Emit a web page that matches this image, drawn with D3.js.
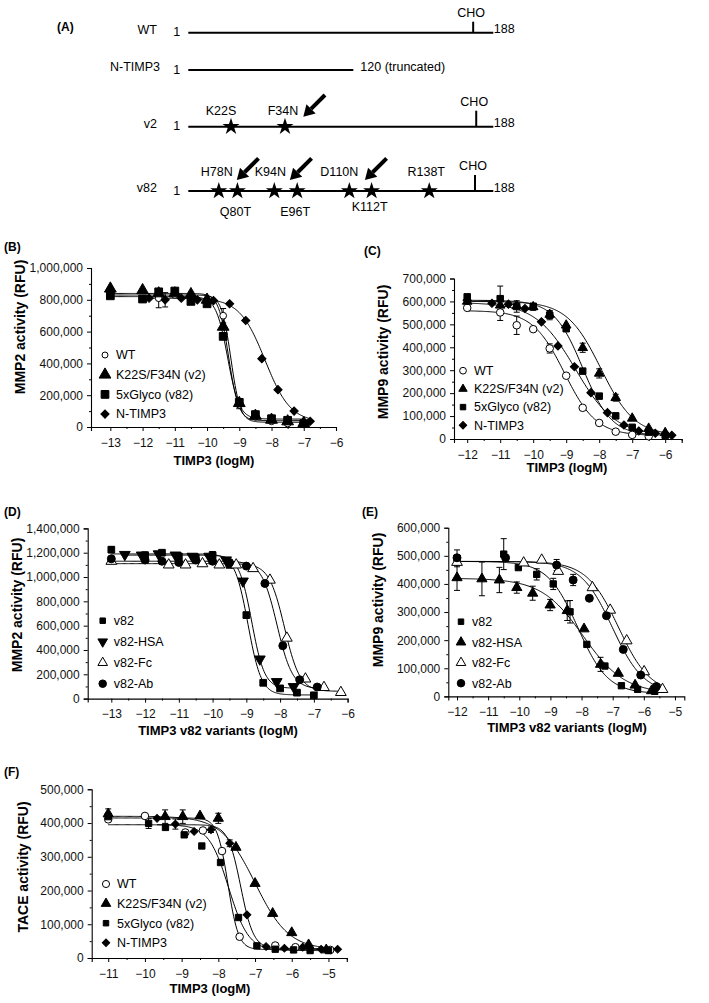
<!DOCTYPE html>
<html><head><meta charset="utf-8">
<script src="https://cdnjs.cloudflare.com/ajax/libs/d3/7.8.5/d3.min.js"></script>
<style>
body{margin:0;background:#fff;}
svg{display:block;font-family:"Liberation Sans",Arial,Helvetica,sans-serif;}
</style></head><body><script>
// ---------------- DATA ----------------
// Panel A schematic (positions as fraction of the 1..188 bar)
const A_rows = ["WT", "N-TIMP3", "v2", "v82"];
const A_rowEnd = [1, 0.541, 1, 1];
const A_rowEndLabel = ["188", "120 (truncated)", "188", "188"];
const A_cho = [0.934, null, 0.944, 0.94];
const A_v2_mut = ["K22S", "F34N"];
const A_v2_pos = [0.14, 0.317];
const A_v82_mut = ["H78N", "Q80T", "K94N", "E96T", "D110N", "K112T", "R138T"];
const A_v82_pos = [0.10, 0.161, 0.282, 0.357, 0.528, 0.601, 0.79];
const A_v82_side = ["up", "down", "up", "down", "up", "down", "up"];
const A_v82_arrow = [false, true, false, true, false, true, false];

// Panel B  [logM, RFU, error]
const B_names = ["WT", "K22S/F34N (v2)", "5xGlyco (v82)", "N-TIMP3"];
const B_WT = [[-13,840000,0],[-12,805000,0],[-11.5,810000,60000],[-11,830000,0],[-10.5,815000,0],[-10,790000,0],[-9.5,700000,45000],[-9,140000,25000],[-8.5,65000,0],[-8,36000,0],[-7.5,22000,0],[-7,17000,0]];
const B_v2 = [[-13,870000,0],[-12,860000,0],[-11.5,840000,0],[-11,840000,0],[-10.5,835000,0],[-10,800000,0],[-9.5,630000,0],[-9,150000,0],[-8.5,70000,0],[-8,45000,0],[-7.5,35000,0],[-7,25000,0]];
const B_v82 = [[-13,825000,0],[-12,805000,0],[-11.5,850000,0],[-11,855000,0],[-10.5,790000,0],[-10,775000,0],[-9.5,570000,0],[-9,155000,20000],[-8.5,78000,0],[-8,52000,0],[-7.5,42000,0],[-7,21000,0]];
const B_NT = [[-11.8,810000,0],[-11.3,800000,45000],[-10.8,810000,0],[-10.3,800000,0],[-9.8,795000,0],[-9.3,775000,0],[-8.8,670000,0],[-8.3,430000,0],[-7.8,235000,0],[-7.3,100000,0],[-6.8,36000,0]];
// fits: [top, bottom, logIC50, hill]
const B_fit = [[830000,30000,-9.26,3.0],[840000,40000,-9.33,2.8],[820000,50000,-9.36,2.4],[810000,30000,-8.2,1.1]];

// Panel C
const C_names = ["WT", "K22S/F34N (v2)", "5xGlyco (v82)", "N-TIMP3"];
const C_WT = [[-12,572000,0],[-11,552000,35000],[-10.5,496000,40000],[-10,479000,0],[-9.5,395000,20000],[-9,276000,0],[-8.5,136000,0],[-8,70000,0],[-7.5,32000,0],[-7,18000,0],[-6.5,12000,0]];
const C_v2 = [[-12,600000,0],[-11,583000,20000],[-10.5,580000,0],[-10,576000,15000],[-9.5,543000,15000],[-9,496000,0],[-8.5,398000,20000],[-8,286000,20000],[-7.5,180000,15000],[-7,90000,0],[-6.5,46000,0],[-6,27000,0]];
const C_v82 = [[-12,620000,0],[-11,612000,55000],[-10.5,578000,25000],[-10,579000,0],[-9.5,540000,20000],[-9,481000,0],[-8.5,296000,0],[-8,187000,0],[-7.5,101000,0],[-7,51000,0],[-6.5,30000,0],[-6,16000,0]];
const C_NT = [[-12,605000,0],[-11.25,592000,0],[-10.75,588000,0],[-10.25,569000,0],[-9.75,511000,0],[-9.25,406000,0],[-8.75,315000,0],[-8.25,202000,0],[-7.75,115000,0],[-7.25,61000,0],[-6.8,35000,0],[-6.3,25000,0],[-5.8,16000,0]];
const C_fit = [[560000,15000,-9.05,0.9],[600000,15000,-7.95,0.85],[605000,15000,-8.5,1.0],[595000,15000,-8.72,0.72]];

// Panel D
const D_names = ["v82", "v82-HSA", "v82-Fc", "v82-Ab"];
const D_v82 = [[-13,1225000,25000],[-12,1180000,0],[-11.5,1200000,0],[-11,1170000,0],[-10.5,1160000,0],[-10,1180000,30000],[-9.5,1100000,0],[-9,687000,0],[-8.5,130000,0],[-8,84000,0],[-7.5,49000,0],[-7,27000,0]];
const D_HSA = [[-12.6,1185000,0],[-12.1,1180000,0],[-11.6,1190000,0],[-11.1,1180000,0],[-10.6,1170000,0],[-10.1,1170000,0],[-9.6,1140000,0],[-9.1,966000,0],[-8.6,325000,0],[-8.1,139000,0],[-7.6,98000,0]];
const D_Fc = [[-13,1130000,0],[-11.3,1100000,0],[-10.8,1100000,0],[-10.3,1110000,0],[-9.8,1100000,0],[-9.3,1100000,0],[-8.8,1070000,0],[-8.3,975000,0],[-7.8,498000,0],[-7.25,162000,0],[-6.7,92000,0],[-6.2,51000,0]];
const D_Ab = [[-13,1150000,0],[-12,1140000,0],[-11.5,1130000,0],[-11,1120000,0],[-10.5,1140000,0],[-10,1130000,0],[-9.5,1120000,0],[-9,1090000,0],[-8.45,947000,0],[-7.92,435000,0],[-7.42,155000,0],[-6.9,95000,0]];
const D_fit = [[1190000,30000,-8.95,2.2],[1180000,85000,-8.84,2.3],[1110000,60000,-7.87,1.9],[1130000,80000,-8.09,1.9]];

// Panel E
const E_names = ["v82", "v82-HSA", "v82-Fc", "v82-Ab"];
const E_v82 = [[-12,491000,30000],[-10.5,506000,55000],[-10.03,458000,0],[-9.44,434000,20000],[-8.91,400000,20000],[-8.37,301000,40000],[-7.83,185000,0],[-7.25,108000,0],[-6.72,38000,0],[-6.2,25000,0],[-5.65,18000,0]];
const E_HSA = [[-12,422000,45000],[-11.2,418000,60000],[-10.64,414000,45000],[-10.08,387000,20000],[-9.57,367000,25000],[-9.01,325000,20000],[-8.46,305000,35000],[-7.92,240000,0],[-7.39,114000,25000],[-6.82,82000,0],[-6.28,40000,0],[-5.75,20000,0]];
const E_Fc = [[-12,477000,0],[-9.86,475000,0],[-9.28,485000,0],[-8.75,445000,0],[-7.65,387000,0],[-7.08,307000,0],[-6.55,198000,0],[-5.99,88000,0],[-5.4,25000,0]];
const E_Ab = [[-12,493000,0],[-10.44,493000,0],[-8.8,467000,20000],[-8.27,414000,20000],[-7.75,349000,0],[-7.2,287000,0],[-6.66,167000,0],[-6.1,76000,0],[-5.6,35000,0]];
const E_fit = [[480000,10000,-8.12,0.9],[420000,10000,-7.95,0.65],[480000,10000,-6.81,0.85],[480000,10000,-7.01,0.86]];

// Panel F
const F_names = ["WT", "K22S/F34N (v2)", "5xGlyco (v82)", "N-TIMP3"];
const F_WT = [[-11,411000,0],[-10,421000,0],[-8.9,372000,0],[-8.42,378000,0],[-7.9,317000,0],[-7.42,63000,0],[-6.45,37000,0],[-5.9,32000,0],[-4.95,24000,0]];
const F_v2 = [[-11,427000,15000],[-9.45,419000,20000],[-8.97,419000,20000],[-8.5,421000,0],[-8.0,414000,15000],[-7.52,328000,0],[-7.0,221000,0],[-6.52,132000,0],[-6.0,75000,0],[-5.54,39000,0],[-5.06,24000,0]];
const F_v82 = [[-11,419000,0],[-9.9,399000,15000],[-9.44,387000,0],[-8.93,365000,0],[-8.45,332000,0],[-7.94,283000,0],[-7.45,120000,0],[-6.95,36000,0],[-6.45,26000,0],[-5.95,24000,0],[-5.5,22000,0],[-5.0,22000,0]];
const F_NT = [[-9.67,414000,0],[-9.17,397000,15000],[-8.66,375000,0],[-8.2,380000,8000],[-7.69,340000,10000],[-7.22,128000,0],[-6.7,34000,0],[-6.2,29000,0],[-5.7,32000,0],[-5.2,26000,0],[-4.75,26000,0]];
const F_fit = [[415000,25000,-7.74,3.0],[420000,25000,-7.0,0.95],[395000,22000,-7.72,1.6],[395000,28000,-7.39,2.5]];

// ---------------- DRAW ----------------
const W = 709, H = 1003;
const svg = d3.select("body").append("svg").attr("width", W).attr("height", H);
svg.append("rect").attr("width", W).attr("height", H).attr("fill", "#fff");
const FS = 12;

function symPath(shape, size) {
  const t = (shape === "circle" || shape === "ocircle") ? d3.symbolCircle :
            (shape === "square") ? d3.symbolSquare :
            (shape === "diamond") ? d3.symbolSquare : d3.symbolTriangle;
  return d3.symbol().type(t).size(size)();
}
function drawSym(g, shape, x, y, size) {
  const rot = shape === "diamond" ? 45 : (shape === "tridown" ? 180 : 0);
  const open = shape === "ocircle" || shape === "otri";
  g.append("path").attr("d", symPath(shape, size))
    .attr("transform", `translate(${x},${y}) rotate(${rot})`)
    .attr("fill", open ? "#fff" : "#000").attr("stroke", "#000").attr("stroke-width", 1);
}

function drawPanel(c) {
  const g = svg.append("g");
  const x = d3.scaleLinear().domain(c.xDom).range(c.xRange);
  const y = d3.scaleLinear().domain(c.yDom).range(c.yRange);
  const yMaj = d3.range(c.yDom[0], c.yDom[1] + 1, c.yStep);
  const yMin = d3.range(c.yDom[0], c.yDom[1] + 1, c.yStep / 2).filter(v => !yMaj.includes(v));
  const xMaj = d3.range(c.xTicks[0], c.xTicks[1] + 0.01, 1);
  const xMin = d3.range(c.xTicks[0] + 0.5, c.xDom[1] + 0.01, 1);
  g.append("g").attr("transform", `translate(${c.xRange[0]},0)`)
    .call(d3.axisLeft(y).tickValues(yMaj).tickFormat(d3.format(",")).tickSize(4).tickPadding(4));
  g.append("g").attr("transform", `translate(${c.xRange[0]},0)`)
    .call(d3.axisLeft(y).tickValues(yMin).tickFormat("").tickSize(2)).select(".domain").remove();
  g.append("g").attr("transform", `translate(0,${c.yRange[0]})`)
    .call(d3.axisBottom(x).tickValues(xMaj).tickFormat(d3.format("d")).tickSize(4).tickPadding(7));
  g.append("g").attr("transform", `translate(0,${c.yRange[0]})`)
    .call(d3.axisBottom(x).tickValues(xMin).tickFormat("").tickSize(2)).select(".domain").remove();
  g.selectAll(".domain").attr("stroke", "#000").attr("stroke-width", 1.1);
  g.selectAll(".tick line").attr("stroke", "#000");
  g.selectAll(".tick text").attr("font-size", FS).attr("fill", "#111")
    .attr("font-family", '"Liberation Sans",Arial,sans-serif');
  g.append("text").attr("transform", `translate(${c.yTitle[0]},${c.yTitle[1]}) rotate(-90)`)
    .attr("text-anchor", "middle").attr("dy", "0.35em").attr("font-weight", "bold").attr("font-size", 14)
    .text(c.yLabel);
  g.append("text").attr("x", c.xTitle[0]).attr("y", c.xTitle[1]).attr("text-anchor", "middle")
    .attr("font-weight", "bold").attr("font-size", 13).text(c.xLabel);
  g.append("text").attr("x", c.letter[0]).attr("y", c.letter[1]).attr("font-weight", "bold")
    .attr("font-size", 12).text(c.letter[2]);
  const line = d3.line().x(d => x(d[0])).y(d => y(d[1]));
  c.series.forEach((s, i) => {
    const f = c.fits[i];
    const ext = d3.extent(s.data, d => d[0]);
    const xs = d3.range(ext[0], ext[1] + 1e-9, (ext[1] - ext[0]) / 200);
    const pts = xs.map(v => [v, f[1] + (f[0] - f[1]) / (1 + Math.pow(10, (v - f[2]) * f[3]))]);
    g.append("path").attr("d", line(pts)).attr("fill", "none").attr("stroke", "#000").attr("stroke-width", 1);
  });
  c.series.forEach(s => {
    s.data.filter(d => d[2] > 0).forEach(d => {
      const px = x(d[0]);
      g.append("line").attr("x1", px).attr("x2", px).attr("y1", y(d[1] - d[2])).attr("y2", y(d[1] + d[2])).attr("stroke", "#000");
      [d[1] - d[2], d[1] + d[2]].forEach(v => g.append("line").attr("x1", px - 3).attr("x2", px + 3)
        .attr("y1", y(v)).attr("y2", y(v)).attr("stroke", "#000"));
    });
  });
  c.series.forEach(s => {
    s.data.forEach(d => drawSym(g, s.shape, x(d[0]), y(d[1]), s.size));
  });
  c.series.forEach((s, i) => {
    const ly = c.legend[1] + i * c.legend[2];
    drawSym(g, s.shape, c.legend[0], ly, s.lsize || s.size);
    g.append("text").attr("x", c.legend[0] + 11).attr("y", ly).attr("dy", "0.35em")
      .attr("font-size", 12.5).text(s.name);
  });
}

drawPanel({
  xDom: [-13.6, -6], xRange: [91, 336], yDom: [0, 1000000], yRange: [427, 268], yStep: 200000,
  xTicks: [-13, -6], yLabel: "MMP2 activity (RFU)", yTitle: [20, 327], xLabel: "TIMP3 (logM)", xTitle: [214, 465],
  letter: [4, 251, "(B)"], legend: [105, 355, 19.7], fits: B_fit,
  series: [
    {name: B_names[0], shape: "ocircle", data: B_WT, size: 36, lsize: 28},
    {name: B_names[1], shape: "tri", data: B_v2, size: 60},
    {name: B_names[2], shape: "square", data: B_v82, size: 60},
    {name: B_names[3], shape: "diamond", data: B_NT, size: 34}
  ]
});
drawPanel({
  xDom: [-12.4, -5.5], xRange: [454, 681.7], yDom: [0, 700000], yRange: [439, 278.5], yStep: 100000,
  xTicks: [-12, -6], yLabel: "MMP9 activity (RFU)", yTitle: [383, 352], xLabel: "TIMP3 (logM)", xTitle: [567, 472],
  letter: [364, 255, "(C)"], legend: [463, 370.7, 18.2], fits: C_fit,
  series: [
    {name: C_names[0], shape: "ocircle", data: C_WT, size: 45, lsize: 36},
    {name: C_names[1], shape: "tri", data: C_v2, size: 40, lsize: 30},
    {name: C_names[2], shape: "square", data: C_v82, size: 42, lsize: 30},
    {name: C_names[3], shape: "diamond", data: C_NT, size: 34, lsize: 28}
  ]
});
drawPanel({
  xDom: [-13.7, -6], xRange: [87.7, 347.6], yDom: [0, 1400000], yRange: [698.6, 528.4], yStep: 200000,
  xTicks: [-13, -6], yLabel: "MMP2 activity (RFU)", yTitle: [17, 605], xLabel: "TIMP3 v82 variants (logM)", xTitle: [218, 735],
  letter: [4, 516, "(D)"], legend: [102.7, 620.7, 21], fits: D_fit,
  series: [
    {name: D_names[0], shape: "square", data: D_v82, size: 45, lsize: 30},
    {name: D_names[1], shape: "tridown", data: D_HSA, size: 50, lsize: 40},
    {name: D_names[2], shape: "otri", data: D_Fc, size: 50, lsize: 40},
    {name: D_names[3], shape: "circle", data: D_Ab, size: 50, lsize: 45}
  ]
});
drawPanel({
  xDom: [-12.28, -4.7], xRange: [448.3, 684.3], yDom: [0, 600000], yRange: [696.4, 527.7], yStep: 100000,
  xTicks: [-12, -5], yLabel: "MMP9 activity (RFU)", yTitle: [378, 600], xLabel: "TIMP3 v82 variants (logM)", xTitle: [567, 732],
  letter: [362, 516, "(E)"], legend: [461, 621.7, 20.5], fits: E_fit,
  series: [
    {name: E_names[0], shape: "square", data: E_v82, size: 40, lsize: 30},
    {name: E_names[1], shape: "tri", data: E_HSA, size: 45, lsize: 40},
    {name: E_names[2], shape: "otri", data: E_Fc, size: 50, lsize: 40},
    {name: E_names[3], shape: "circle", data: E_Ab, size: 50, lsize: 45}
  ]
});
drawPanel({
  xDom: [-11.45, -4.5], xRange: [91.7, 346.8], yDom: [0, 500000], yRange: [958, 789.3], yStep: 100000,
  xTicks: [-11, -5], yLabel: "TACE activity (RFU)", yTitle: [23, 867], xLabel: "TIMP3 (logM)", xTitle: [210, 993],
  letter: [4, 776, "(F)"], legend: [106, 884, 19.6], fits: F_fit,
  series: [
    {name: F_names[0], shape: "ocircle", data: F_WT, size: 45, lsize: 40},
    {name: F_names[1], shape: "tri", data: F_v2, size: 45, lsize: 40},
    {name: F_names[2], shape: "square", data: F_v82, size: 40, lsize: 30},
    {name: F_names[3], shape: "diamond", data: F_NT, size: 30, lsize: 28}
  ]
});

// ---------------- PANEL A ----------------
(function () {
  const g = svg.append("g");
  const a = d3.scaleLinear().domain([0, 1]).range([188.3, 493.3]);
  const yFor = d3.scaleOrdinal().domain(A_rows).range([32.7, 70, 126.7, 191]);
  g.append("text").attr("x", 57).attr("y", 31).attr("font-weight", "bold").attr("font-size", 12).text("(A)");
  A_rows.forEach((r, i) => {
    const yy = yFor(r);
    g.append("text").attr("x", r === "N-TIMP3" ? 160 : 157).attr("y", yy).attr("dy", "0.1em")
      .attr("text-anchor", "end").attr("font-size", 12.5).text(r);
    g.append("text").attr("x", 176.7).attr("y", yy).attr("dy", "0.3em").attr("text-anchor", "middle")
      .attr("font-size", 12.5).text("1");
    g.append("line").attr("x1", a(0)).attr("x2", a(A_rowEnd[i])).attr("y1", yy).attr("y2", yy)
      .attr("stroke", "#000").attr("stroke-width", 2);
    g.append("text").attr("x", a(A_rowEnd[i]) + (i === 1 ? 7 : 0.5)).attr("y", yy).attr("dy", i === 1 ? "0.1em" : "0.05em")
      .attr("font-size", 12.5).text(A_rowEndLabel[i]);
    if (A_cho[i] !== null) {
      const cx = a(A_cho[i]);
      const top = i === 0 ? 11 : 16;
      g.append("line").attr("x1", cx).attr("x2", cx).attr("y1", yy).attr("y2", yy - top)
        .attr("stroke", "#000").attr("stroke-width", 2);
      g.append("text").attr("x", cx - 2).attr("y", yy - top - 5).attr("text-anchor", "middle")
        .attr("font-size", 12.5).text("CHO");
    }
  });
  const star = d3.symbol().type(d3.symbolStar).size(90)();
  function arrow(tx, ty) {
    const dx = 21.7, dy = -21.7, L = Math.hypot(dx, dy), ux = dx / L, uy = dy / L;
    const hl = 11, hw = 6.5;
    const bx = tx + ux * hl, by = ty + uy * hl;
    g.append("line").attr("x1", bx).attr("y1", by).attr("x2", tx + dx).attr("y2", ty + dy)
      .attr("stroke", "#000").attr("stroke-width", 4);
    g.append("path").attr("d", `M${tx},${ty}L${bx - uy * hw},${by + ux * hw}L${bx + uy * hw},${by - ux * hw}Z`).attr("fill", "#000");
  }
  const y2 = yFor("v2");
  const v2dx = [-10, -2];
  A_v2_pos.forEach((p, i) => {
    g.append("path").attr("d", star).attr("transform", `translate(${a(p)},${y2})`).attr("fill", "#000");
    g.append("text").attr("x", a(p) + v2dx[i]).attr("y", y2 - 12).attr("text-anchor", "middle").attr("font-size", 12.5).text(A_v2_mut[i]);
  });
  arrow(a(A_v2_pos[1]) + 18.3, y2 - 10);
  const y82 = yFor("v82");
  const v82dx = [-2, -2, -4, -2, -10, -2, -3];
  const arrOff = [0, -0.6, 0, -7.3, 0, -6.7, 0];
  A_v82_pos.forEach((p, i) => {
    g.append("path").attr("d", star).attr("transform", `translate(${a(p)},${y82})`).attr("fill", "#000");
    const up = A_v82_side[i] === "up";
    const ty = up ? y82 - 15 : (i === 5 ? y82 + 20 : y82 + 25);
    g.append("text").attr("x", a(p) + v82dx[i]).attr("y", ty).attr("text-anchor", "middle").attr("font-size", 12.5).text(A_v82_mut[i]);
    if (A_v82_arrow[i]) arrow(a(p) + arrOff[i], y82 - 11);
  });
})();
</script></body></html>
